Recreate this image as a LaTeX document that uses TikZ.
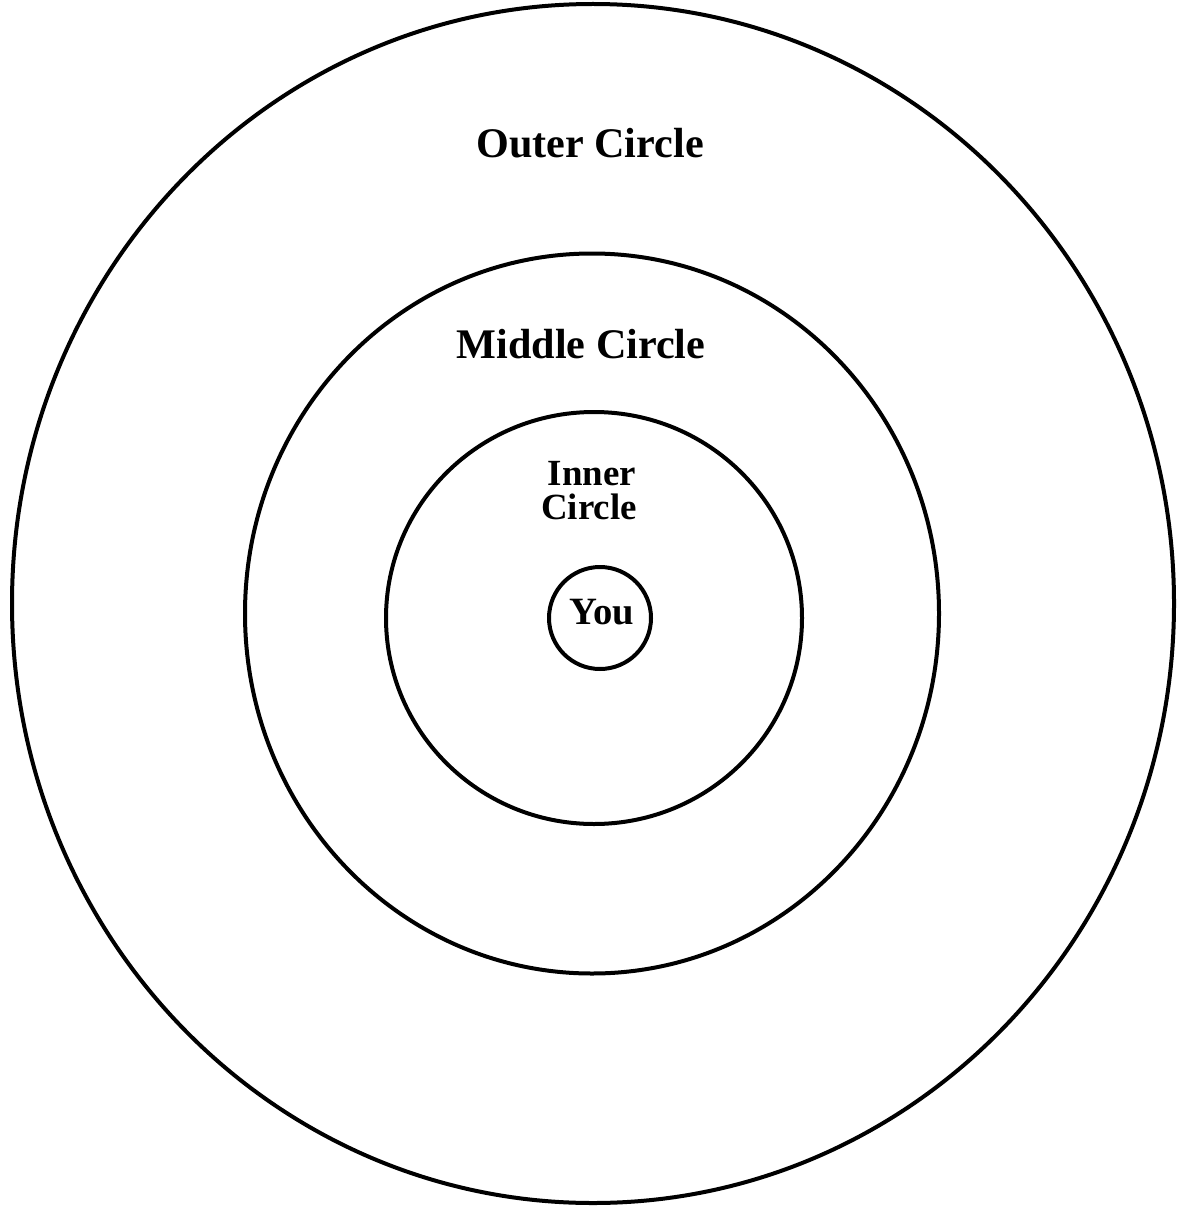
\documentclass[tikz,border=0pt]{standalone}
\usepackage{fontspec}
\setmainfont{Liberation Serif}
\begin{document}
\begin{tikzpicture}[x=0.02cm,y=-0.02cm,line width=0.08cm,
  ring/.style={draw=black},
  biglabel/.style={font=\fontsize{24}{28}\selectfont\bfseries,anchor=base,inner sep=0pt},
  smalllabel/.style={font=\fontsize{21}{25}\selectfont\bfseries,anchor=base,inner sep=0pt}]
\useasboundingbox (0,0) rectangle (1176,1206);
\fill[white] (0,0) rectangle (1176,1206);
% rings, outside in
\draw[ring] (593,603.5) ellipse [x radius=581,y radius=599.5];
\draw[ring] (592,613.5) ellipse [x radius=347,y radius=360];
\draw[ring] (594,618) ellipse [x radius=208,y radius=206];
\draw[ring] (600,618) circle [radius=51];
% labels
\node[biglabel] (outer) at (590,158) {Outer Circle};
\node[biglabel] (middle) at (581,358) {Middle Circle};
\node[smalllabel] (inner1) at (592,485) {Inner};
\node[smalllabel] (inner2) at (589,519) {Circle};
\node[smalllabel,font=\fontsize{22}{26}\selectfont\bfseries] (you) at (602,624) {You};
\end{tikzpicture}
\end{document}
